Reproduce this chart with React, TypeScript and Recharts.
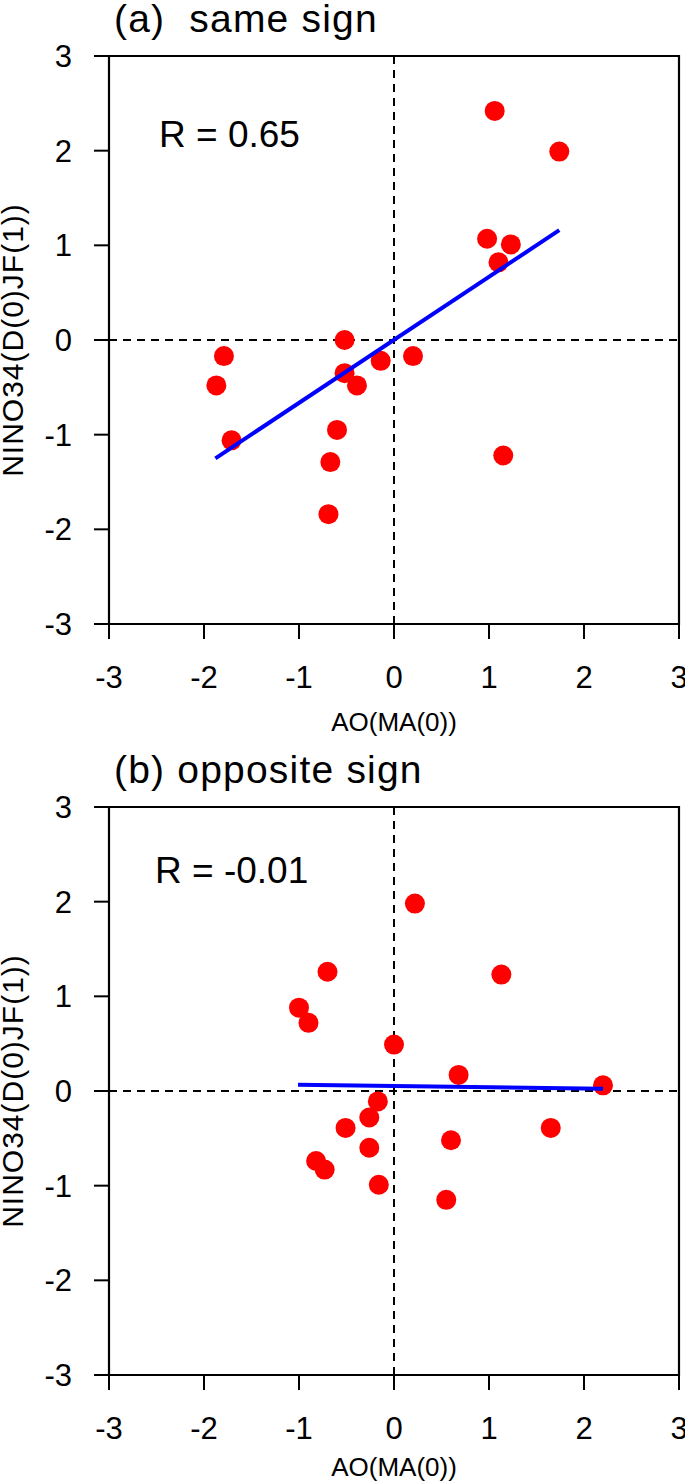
import React from "react";
import {
  ScatterChart,
  Scatter,
  XAxis,
  YAxis,
  ReferenceLine,
  ReferenceArea,
} from "recharts";

// (a) same sign
const sameX = [1.06, 1.74, 0.98, 1.23, 1.1, -0.52, -1.79, -1.87, -0.14, 0.2, -0.52, -0.39, -0.6, -1.71, -0.67, 1.15, -0.69];
const sameY = [2.42, 1.99, 1.07, 1.01, 0.82, 0.0, -0.17, -0.48, -0.22, -0.17, -0.35, -0.48, -0.95, -1.06, -1.29, -1.22, -1.84];
const sameFitX = [-1.88, 1.74];
const sameFitY = [-1.25, 1.16];

// (b) opposite sign
const oppX = [0.22, -0.7, 1.13, -1.0, -0.9, 0.0, 0.68, 2.2, -0.17, -0.26, -0.51, 1.65, 0.6, -0.26, -0.82, -0.73, -0.16, 0.55];
const oppY = [1.98, 1.26, 1.23, 0.88, 0.72, 0.49, 0.17, 0.06, -0.11, -0.28, -0.39, -0.39, -0.52, -0.6, -0.74, -0.83, -0.99, -1.15];
const oppFitX = [-1.01, 2.2];
const oppFitY = [0.065, 0.025];

const axisTicks = [-3, -2, -1, 0, 1, 2, 3];
const xTitle = "AO(MA(0))";
const yTitle = "NINO34(D(0)JF(1))";

const FONT = "'Liberation Sans', Arial, Helvetica, sans-serif";

const RedDot = (props: any) => (
  <circle cx={props.cx} cy={props.cy} r={10} fill="#ff0000" />
);

const NoDot = () => <g />;

function Panel({ xs, ys, fitX, fitY }: { xs: number[]; ys: number[]; fitX: number[]; fitY: number[] }) {
  const points = xs.map((x, i) => ({ x, y: ys[i] }));
  const fit = fitX.map((x, i) => ({ x, y: fitY[i] }));
  const tickStyle = { fill: "#000", fontSize: 31, fontFamily: FONT };
  return (
    <ScatterChart width={685} height={746} margin={{ top: 56, right: 6, bottom: 0, left: 0 }}>
      <XAxis
        type="number"
        dataKey="x"
        domain={[-3, 3]}
        ticks={axisTicks}
        interval={0}
        height={122}
        tickSize={15}
        tickMargin={27}
        tick={tickStyle}
        axisLine={{ stroke: "#000", strokeWidth: 2 }}
        tickLine={{ stroke: "#000", strokeWidth: 2 }}
        allowDataOverflow
      />
      <YAxis
        type="number"
        dataKey="y"
        domain={[-3, 3]}
        ticks={axisTicks}
        interval={0}
        width={109}
        tickSize={15}
        tickMargin={22}
        tick={tickStyle}
        axisLine={{ stroke: "#000", strokeWidth: 2 }}
        tickLine={{ stroke: "#000", strokeWidth: 2 }}
        allowDataOverflow
      />
      <ReferenceArea x1={-3} x2={3} y1={-3} y2={3} fill="none" stroke="#000" strokeWidth={2.2} />
      <ReferenceLine x={0} stroke="#000" strokeWidth={2} strokeDasharray="8 6" />
      <ReferenceLine y={0} stroke="#000" strokeWidth={2} strokeDasharray="8 6" />
      <Scatter data={points} shape={RedDot} isAnimationActive={false} />
      <Scatter
        data={fit}
        shape={NoDot}
        line={{ stroke: "#0000ff", strokeWidth: 4 }}
        isAnimationActive={false}
      />
    </ScatterChart>
  );
}

export default function App() {
  return (
    <div style={{ position: "absolute", left: 0, top: 0, width: 685, height: 1482, background: "#fff" }}>
      <div style={{ position: "absolute", left: 0, top: 0 }}>
        <Panel xs={sameX} ys={sameY} fitX={sameFitX} fitY={sameFitY} />
      </div>
      <div style={{ position: "absolute", left: 0, top: 751 }}>
        <Panel xs={oppX} ys={oppY} fitX={oppFitX} fitY={oppFitY} />
      </div>
      <svg
        width={685}
        height={1482}
        style={{ position: "absolute", left: 0, top: 0, pointerEvents: "none" }}
        fontFamily={FONT}
      >
        <text x={114} y={32} fontSize={39} letterSpacing={1.2} style={{ whiteSpace: "pre" }}>
          {"(a)  same sign"}
        </text>
        <text x={159} y={147} fontSize={37}>R = 0.65</text>
        <text x={394} y={731} fontSize={26} textAnchor="middle">{xTitle}</text>
        <text transform="translate(23,340) rotate(-90)" fontSize={30} letterSpacing={1} textAnchor="middle">{yTitle}</text>

        <text x={114} y={783} fontSize={39} letterSpacing={1.2} style={{ whiteSpace: "pre" }}>
          {"(b) opposite sign"}
        </text>
        <text x={155} y={883} fontSize={37}>R = -0.01</text>
        <text x={394} y={1476} fontSize={26} textAnchor="middle">{xTitle}</text>
        <text transform="translate(23,1091) rotate(-90)" fontSize={30} letterSpacing={1} textAnchor="middle">{yTitle}</text>
      </svg>
    </div>
  );
}
